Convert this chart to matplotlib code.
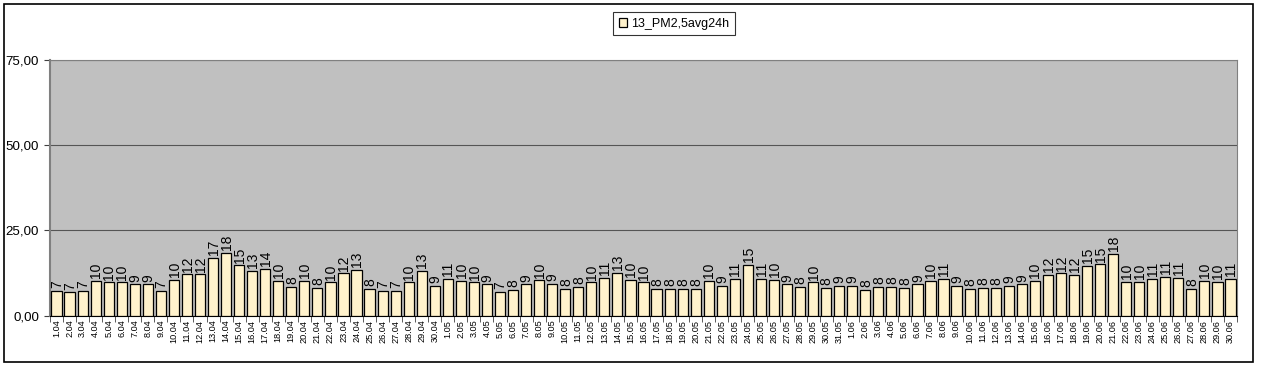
import matplotlib
matplotlib.use("Agg")
import matplotlib.pyplot as plt
from matplotlib.patches import Rectangle
import numpy as np

plt.rcParams['font.family'] = ['Liberation Sans', 'DejaVu Sans']

dates = ([f"{d}.04" for d in range(1, 31)] +
         [f"{d}.05" for d in range(1, 32)] +
         [f"{d}.06" for d in range(1, 31)])

values = [
    # April
    7.3, 6.8, 7.3, 10.2, 9.7, 9.7, 9.1, 9.1, 7.2, 10.5,
    12.1, 12.1, 17.0, 18.4, 14.7, 13.2, 13.7, 10.2, 8.4, 10.2,
    8.2, 9.7, 12.4, 13.4, 7.9, 7.3, 7.3, 9.7, 13.1, 8.8,
    # May
    10.8, 10.2, 9.7, 9.1, 6.9, 7.6, 9.1, 10.3, 9.3, 7.9,
    8.4, 9.7, 11.1, 12.6, 10.5, 9.7, 7.9, 7.8, 7.8, 7.8,
    10.2, 8.8, 10.8, 14.9, 10.8, 10.5, 9.1, 8.4, 9.7, 8.2, 8.8,
    # June
    8.8, 7.6, 8.4, 8.4, 8.2, 9.1, 10.2, 10.8, 8.8, 7.9,
    8.2, 8.2, 8.8, 9.1, 10.2, 12.0, 12.4, 12.0, 14.6, 15.0,
    18.1, 9.9, 9.9, 10.8, 11.4, 11.1, 7.9, 10.2, 9.9, 10.8,
]

series_name = "13_PM2,5avg24h"
yticks = [0, 25, 50, 75]
ytick_labels = ["0,00", "25,00", "50,00", "75,00"]

W, H = 1267, 371
fig = plt.figure(figsize=(W / 100, H / 100), dpi=100)
fig.patch.set_facecolor("white")

# outer chart border
fig.add_artist(Rectangle((4 / W, 9 / H), 1249 / W, 358 / H, transform=fig.transFigure,
                         fill=False, edgecolor="black", linewidth=1.2))

ax = fig.add_axes([50 / W, (H - 315.5) / H, (1237 - 50) / W, (315.5 - 60) / H])
ax.set_facecolor("#C0C0C0")

x = np.arange(len(values))
bars = ax.bar(x, values, width=0.78, color="#FFF2CC", edgecolor="black",
              linewidth=0.9, label=series_name, zorder=3)

for xi, v in zip(x, values):
    ax.text(xi + 0.05, v + 0.8, f"{round(v):d}", rotation=90, ha="center", va="bottom",
            fontsize=10, color="black", zorder=4)

ax.set_xlim(-0.5, len(values) - 0.5)
ax.set_ylim(0, 75)
ax.set_yticks(yticks)
ax.set_yticklabels(ytick_labels, fontsize=9.6)
ax.yaxis.grid(True, color="#555555", linewidth=0.8, zorder=1)
ax.set_axisbelow(True)

ax.set_xticks(x)
ax.set_xticklabels(dates, rotation=90, fontsize=6.6)
ax.set_xticks(np.arange(-0.5, len(values), 1), minor=True)
ax.tick_params(axis="x", which="major", length=0, pad=3)
ax.tick_params(axis="x", which="minor", length=4, direction="out", color="#404040")
ax.tick_params(axis="y", length=4, direction="out", color="#404040", pad=4)

for s in ["top", "right"]:
    ax.spines[s].set_color("#808080")
    ax.spines[s].set_linewidth(0.8)
ax.spines["left"].set_color("#808080")
ax.spines["left"].set_linewidth(1.5)
ax.spines["bottom"].set_color("black")
ax.spines["bottom"].set_linewidth(0.8)

leg = fig.legend(loc="center", bbox_to_anchor=(674 / W, (H - 23.5) / H),
                 fontsize=9, frameon=True, fancybox=False, edgecolor="black",
                 handlelength=0.7, handleheight=0.7, handletextpad=0.3,
                 borderpad=0.45)
leg.get_frame().set_linewidth(0.8)

fig.savefig("out.png", dpi=100)
